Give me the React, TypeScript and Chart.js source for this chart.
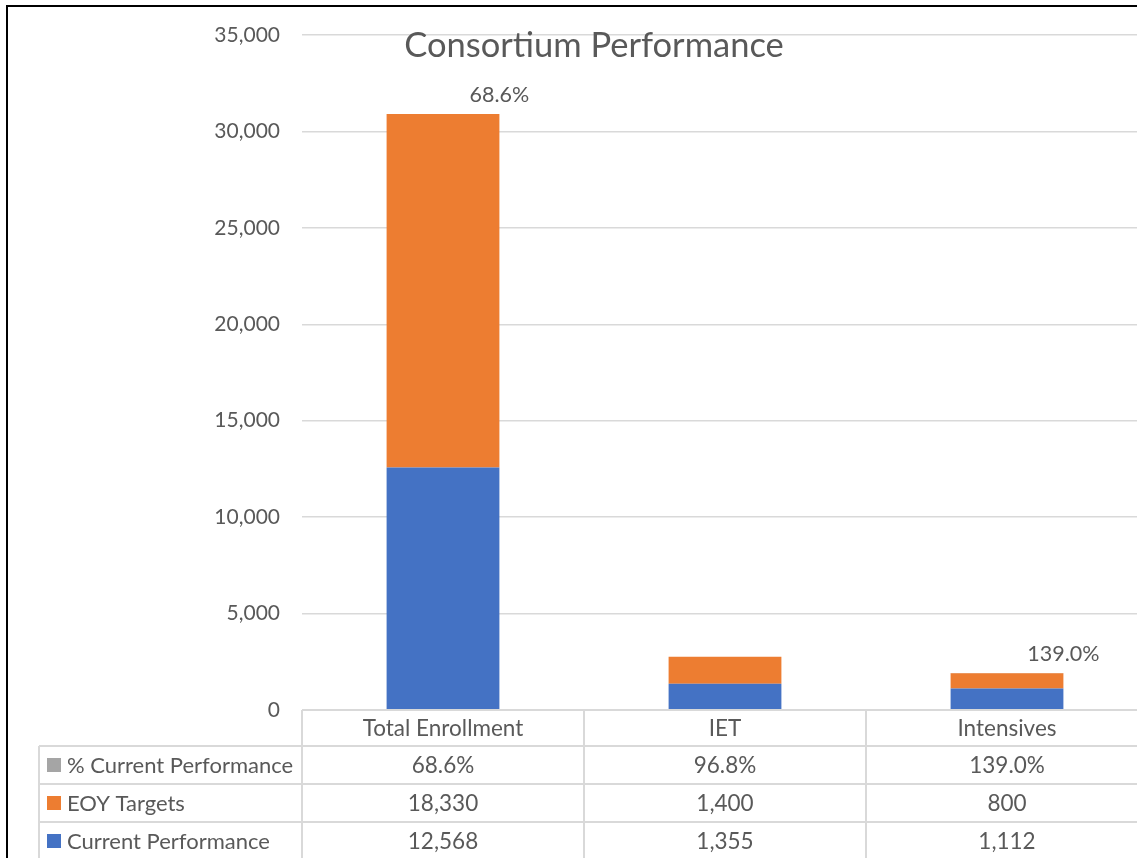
import React, { useEffect, useRef } from "react";
import { Chart, registerables } from "chart.js";

Chart.register(...registerables);

// Categories and series
const categories = ["Total Enrollment", "IET", "Intensives"];
const currentPerformance = [12568, 1355, 1112];
const eoyTargets = [18330, 1400, 800];
const pctCurrentPerformance = [0.686, 0.968, 1.39];
// which percentage labels appear above the bars
const pctLabelShown = [true, false, true];

const yTicks = [0, 5000, 10000, 15000, 20000, 25000, 30000, 35000];

const seriesNames = ["Current Performance", "EOY Targets", "% Current Performance"];
const seriesColors = ["#4472C4", "#ED7D31", "#A5A5A5"];

const FONT = "Lato, 'Open Sans', sans-serif";
const TEXT = "#595959";
const LINE = "#d9d9d9";

const fmtNum = (v: number) => v.toLocaleString("en-US");
const fmtPct = (v: number) => (v * 100).toFixed(1) + "%";

// Title drawn over the plot area
const titlePlugin = {
  id: "overlayTitle",
  afterDraw(chart: any) {
    const ctx = chart.ctx;
    ctx.save();
    ctx.fillStyle = TEXT;
    ctx.font = `34.5px ${FONT}`;
    ctx.textAlign = "center";
    ctx.textBaseline = "alphabetic";
    ctx.fillText("Consortium Performance", 594, 57);
    ctx.restore();
  },
};

// Percentage labels at the top right corner of each stack
const pctLabelPlugin = {
  id: "pctLabels",
  afterDatasetsDraw(chart: any) {
    const meta = chart.getDatasetMeta(2);
    const ctx = chart.ctx;
    ctx.save();
    ctx.fillStyle = TEXT;
    ctx.font = `21.5px ${FONT}`;
    ctx.textAlign = "center";
    ctx.textBaseline = "middle";
    meta.data.forEach((el: any, i: number) => {
      if (!pctLabelShown[i]) return;
      ctx.fillText(fmtPct(pctCurrentPerformance[i]), el.x + el.width / 2, el.y - 19);
    });
    ctx.restore();
  },
};

// Data table beneath the plot, columns aligned with the category scale
const dataTablePlugin = {
  id: "dataTable",
  afterDraw(chart: any) {
    const ctx = chart.ctx;
    const x = chart.scales.x;
    const area = chart.chartArea;
    const n = categories.length;
    const colW = x.getPixelForValue(1) - x.getPixelForValue(0);
    const edges: number[] = [];
    for (let i = 0; i <= n; i++) edges.push(x.getPixelForValue(i) - colW / 2);
    const tableLeft = 39;
    const top = area.bottom;
    const headerH = 36;
    const rowH = 38;
    const rowTops = [top + headerH, top + headerH + rowH, top + headerH + 2 * rowH];
    const bottom = top + headerH + 3 * rowH;
    const right = chart.width;

    ctx.save();
    ctx.strokeStyle = LINE;
    ctx.lineWidth = 2;
    ctx.beginPath();
    // header top
    ctx.moveTo(edges[0], top);
    ctx.lineTo(right, top);
    // row separators
    rowTops.forEach((y) => {
      ctx.moveTo(tableLeft, y);
      ctx.lineTo(right, y);
    });
    ctx.moveTo(tableLeft, bottom);
    ctx.lineTo(right, bottom);
    // verticals
    ctx.moveTo(tableLeft, rowTops[0]);
    ctx.lineTo(tableLeft, bottom);
    edges.forEach((ex) => {
      ctx.moveTo(ex, top);
      ctx.lineTo(ex, bottom);
    });
    ctx.stroke();

    ctx.fillStyle = TEXT;
    ctx.font = `22.5px ${FONT}`;
    ctx.textBaseline = "middle";
    ctx.textAlign = "center";
    categories.forEach((c, i) => {
      ctx.fillText(c, x.getPixelForValue(i), top + headerH / 2 + 1);
    });

    const rows = [
      { name: seriesNames[2], color: seriesColors[2], vals: pctCurrentPerformance.map(fmtPct) },
      { name: seriesNames[1], color: seriesColors[1], vals: eoyTargets.map(fmtNum) },
      { name: seriesNames[0], color: seriesColors[0], vals: currentPerformance.map(fmtNum) },
    ];
    rows.forEach((r, ri) => {
      const cy = rowTops[ri] + rowH / 2;
      ctx.fillStyle = r.color;
      ctx.fillRect(47, cy - 7, 14, 14);
      ctx.fillStyle = TEXT;
      ctx.textAlign = "left";
      ctx.font = `22px ${FONT}`;
      ctx.fillText(r.name, 67, cy + 1);
      ctx.textAlign = "center";
      ctx.font = `22.5px ${FONT}`;
      r.vals.forEach((v, i) => {
        ctx.fillText(v, x.getPixelForValue(i), cy + 1);
      });
    });
    ctx.restore();
  },
};

export default function App() {
  const canvasRef = useRef<HTMLCanvasElement | null>(null);

  useEffect(() => {
    if (!canvasRef.current) return;
    const chart = new Chart(canvasRef.current, {
      type: "bar",
      data: {
        labels: categories,
        datasets: [
          { label: seriesNames[0], data: currentPerformance, backgroundColor: seriesColors[0] },
          { label: seriesNames[1], data: eoyTargets, backgroundColor: seriesColors[1] },
          { label: seriesNames[2], data: pctCurrentPerformance, backgroundColor: seriesColors[2] },
        ],
      },
      options: {
        animation: false,
        responsive: false,
        maintainAspectRatio: false,
        datasets: { bar: { barPercentage: 0.4, categoryPercentage: 1 } },
        layout: { padding: { top: 35, bottom: 148, left: 0, right: 12 } },
        plugins: { legend: { display: false }, tooltip: { enabled: false }, title: { display: false } },
        scales: {
          x: { stacked: true, display: false, offset: true },
          y: {
            stacked: true,
            min: 0,
            max: 35000,
            afterFit(scale: any) {
              scale.width = 302;
            },
            afterBuildTicks(scale: any) {
              scale.ticks = yTicks.map((v) => ({ value: v }));
            },
            border: { display: false },
            grid: { color: LINE, lineWidth: 1.5, drawTicks: false },
            ticks: {
              padding: 22,
              color: TEXT,
              font: { family: FONT, size: 21 },
              callback: (v: any) => fmtNum(Number(v)),
            },
          },
        },
      },
      plugins: [titlePlugin, pctLabelPlugin, dataTablePlugin],
    });
    return () => chart.destroy();
  }, []);

  return (
    <div
      style={{
        position: "absolute",
        left: 0,
        top: 0,
        width: 1137,
        height: 858,
        overflow: "hidden",
        background: "#fff",
      }}
    >
      <canvas ref={canvasRef} width={1160} height={858} style={{ display: "block" }} />
      <div
        style={{
          position: "absolute",
          left: 6,
          top: 5,
          width: 1200,
          height: 900,
          borderLeft: "2px solid #000",
          borderTop: "2px solid #000",
          pointerEvents: "none",
        }}
      />
    </div>
  );
}
